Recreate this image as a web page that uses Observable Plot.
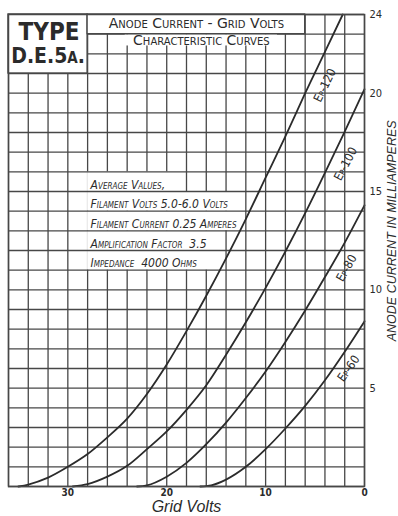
<!DOCTYPE html>
<html>
<head>
<meta charset="utf-8">
<script src="https://cdn.jsdelivr.net/npm/d3@7"></script>
<script src="https://cdn.jsdelivr.net/npm/@observablehq/plot@0.6"></script>
<style>
  html, body { margin: 0; padding: 0; background: #fff; }
  #chart svg { display: block; }
</style>
</head>
<body>
<div id="chart"></div>
<script>
// D.E.5A valve: anode current (mA) against negative grid volts, one curve per anode voltage.
// Each pair is [grid volts (negative), anode current in mA].
const ep120 = [[35,0],[34,0.1],[32,0.45],[30,1.0],[28,1.65],[26,2.5],[24,3.45],[22,4.7],[20,6.2],[18,7.9],[16,9.7],[14,11.6],[12,13.6],[10,15.7],[8,17.8],[6,20.0],[4,22.1],[2.2,24]];
const ep100 = [[29.5,0],[28,0.12],[26,0.5],[24,1.05],[22,1.9],[20,2.8],[18,3.9],[16,5.15],[14,6.7],[12,8.35],[10,10.1],[8,11.95],[6,13.9],[4,15.95],[2,18.05],[0,20.2]];
const ep80  = [[23,0],[22,0.06],[20,0.5],[18,1.2],[16,2.15],[14,3.25],[12,4.5],[10,5.85],[8,7.35],[6,8.95],[4,10.65],[2,12.4],[0,14.3]];
const ep60  = [[16.6,0],[15.5,0.06],[14,0.35],[12,1.0],[10,1.9],[8,2.95],[6,4.1],[4,5.4],[2,6.85],[0,8.4]];

const anodeVolts = [120, 100, 80, 60];
const curveLabels = ["Ep-120", "Ep-100", "Ep-80", "Ep-60"];

const xTicks = [30, 20, 10, 0];
const yTicks = [5, 10, 15, 20, 24];

const typeLines = ["Type", "D.E.5a."];
const titleLines = ["Anode Current - Grid Volts", "Characteristic Curves"];
const averageValues = [
  "Average Values,",
  "Filament Volts 5.0-6.0 Volts",
  "Filament Current 0.25 Amperes",
  "Amplification Factor  3.5",
  "Impedance  4000 Ohms"
];

const series = [ep120, ep100, ep80, ep60];
const curves = series.flatMap((pts, i) =>
  pts.map(([v, ma]) => ({ep: anodeVolts[i], volts: v, ma}))
);

const ink = "#2b2b2b";
const gridInk = "#474747";
const hand = "'DejaVu Sans Condensed', 'DejaVu Sans', sans-serif";
const wide = "'DejaVu Sans', sans-serif";
const italicFace = "'Liberation Sans', Arial, sans-serif";

// placement of the notes block rows (grid volts span, mA band)
const noteRows = [
  {x2: 18.2, top: 16},
  {x2: 12.4, top: 15},
  {x2: 12.4, top: 14},
  {x2: 14.4, top: 13},
  {x2: 14.3, top: 12}
];
// placement of curve tags
const tagPos = [
  {x: 4.0, y: 20.4, r: -64},
  {x: 1.9, y: 16.4, r: -62},
  {x: 1.8, y: 11.1, r: -60},
  {x: 1.6, y: 6.0,  r: -55}
];

const chart = Plot.plot({
  width: 398,
  height: 516,
  marginLeft: 8,
  marginRight: 34,
  marginTop: 14,
  marginBottom: 30,
  style: {background: "#fff", color: ink, fontFamily: hand},
  x: {domain: [36, 0]},
  y: {domain: [0, 24]},
  marks: [
    // vertical rulings every 2 volts
    Plot.gridX({ticks: d3.range(0, 37, 2), stroke: gridInk, strokeOpacity: 1, strokeWidth: 1.3}),
    // white bands behind the notes
    Plot.rect(noteRows, {x1: () => 28, x2: "x2", y1: d => d.top - 1, y2: "top", fill: "#fff"}),
    // horizontal rulings every milliampere
    Plot.gridY({ticks: d3.range(0, 25, 1), stroke: gridInk, strokeOpacity: 1, strokeWidth: 1.3}),

    // anode current curves
    Plot.line(curves, {x: "volts", y: "ma", z: "ep", curve: "monotone-x", stroke: ink, strokeWidth: 1.8}),

    // type box and heading band
    Plot.rect([0], {x1: () => 36, x2: () => 28, y1: () => 21, y2: () => 24, fill: "#fff", stroke: gridInk, strokeWidth: 1.4}),
    Plot.rect([0], {x1: () => 28, x2: () => 6, y1: () => 23, y2: () => 24, fill: "#fff", stroke: gridInk, strokeWidth: 1.3}),
    Plot.rect([0], {x1: () => 24.2, x2: () => 8.8, y1: () => 22.4, y2: () => 22.95, fill: "#fff"}),

    Plot.text([typeLines[0]], {x: () => 31.9, y: () => 23.08, text: d => d.toUpperCase(), fontFamily: hand, fontSize: 24, fontWeight: "bold", fill: ink}),
    Plot.text([typeLines[1]], {x: () => 32.0, y: () => 21.86, text: d => d, fontFamily: hand, fontVariant: "small-caps", fontSize: 21, fontWeight: "bold", fill: ink}),

    Plot.text([titleLines[0]], {x: () => 17.0, y: () => 23.52, text: d => d, fontFamily: wide, fontVariant: "small-caps", fontSize: 14, fill: ink}),
    Plot.text([titleLines[1]], {x: () => 16.5, y: () => 22.7, text: d => d, fontFamily: wide, fontVariant: "small-caps", fontSize: 14, fill: ink}),

    // notes block
    Plot.text(averageValues, {
      x: () => 28, y: (d, i) => noteRows[i].top - 1, text: d => d,
      textAnchor: "start", lineAnchor: "bottom", dx: 3, dy: -3,
      fontVariant: "small-caps", fontStyle: "italic", fontSize: 12, fill: ink
    }),

    // curve tags
    Plot.text(curveLabels, {
      x: (d, i) => tagPos[i].x, y: (d, i) => tagPos[i].y, rotate: (d, i) => tagPos[i].r,
      text: d => d, fontVariant: "small-caps", fontSize: 12, fill: ink
    }),

    // axes
    Plot.axisX({ticks: xTicks, tickSize: 0, tickPadding: 2, label: null, fontSize: 10, fontWeight: "bold", tickFormat: d => d}),
    Plot.axisY({anchor: "right", ticks: yTicks, tickSize: 0, tickPadding: 5, label: null, fontSize: 11, tickFormat: d => d}),
    Plot.text(["Grid Volts"], {x: () => 18, frameAnchor: "bottom", dy: 25, text: d => d, fontFamily: italicFace, fontStyle: "italic", fontSize: 16, fill: ink}),
    Plot.text(["Anode Current in Milliamperes"], {x: () => 0, y: () => 13.0, dx: 27, rotate: -90, text: d => d.toUpperCase(), fontFamily: italicFace, fontStyle: "italic", fontSize: 12.5, fill: ink}),

    Plot.frame({stroke: gridInk, strokeWidth: 1.5})
  ]
});

document.getElementById("chart").append(chart);
</script>
</body>
</html>
